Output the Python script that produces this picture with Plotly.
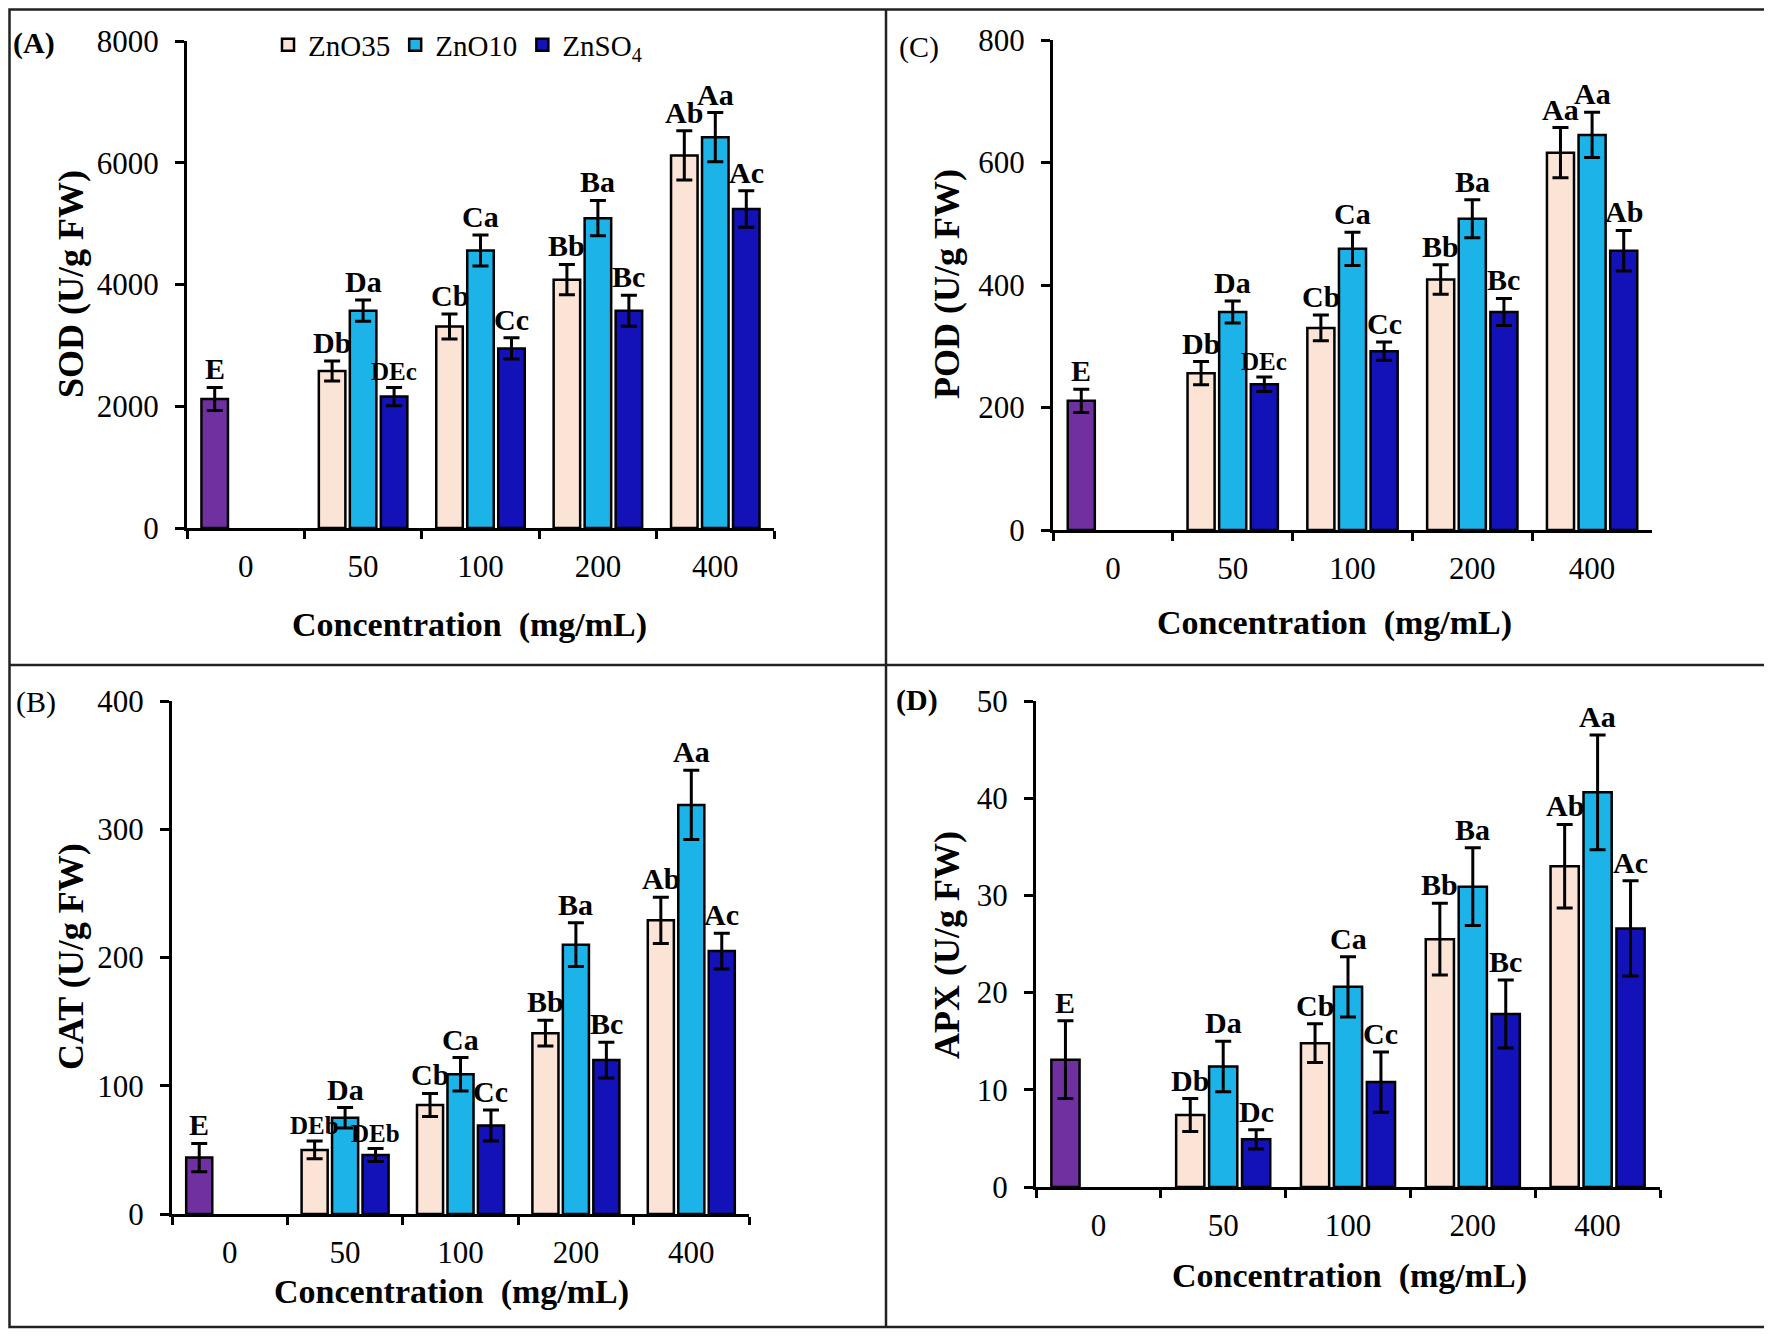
"""Atividade enzimática (SOD, CAT, POD, APX) por concentração de Zn - painéis A-D."""
import plotly.graph_objects as go

FONTE = 'Liberation Serif'
W, H = 1772, 1336
DESLOC = 8  # margem do <body> da página: a figura começa em (8, 8)

concentracoes = ['0', '50', '100', '200', '400']
nomes_series = ['ZnO35', 'ZnO10', 'ZnSO<sub>4</sub>']
cores_series = ['#fbe3d5', '#1cb4e8', '#1212b8']
cor_controle = '#7030a0'

# (A) SOD
sod_controle = [2120]
sod_controle_erro = [190]
sod_zno35 = [2580, 3310, 4080, 6120]
sod_zno35_erro = [165, 205, 250, 405]
sod_zno10 = [3570, 4560, 5090, 6420]
sod_zno10_erro = [175, 255, 290, 405]
sod_znso4 = [2160, 2950, 3570, 5240]
sod_znso4_erro = [150, 175, 255, 300]
sod_letras_controle = ['E']
sod_letras_zno35 = ['Db', 'Cb', 'Bb', 'Ab']
sod_letras_zno10 = ['Da', 'Ca', 'Ba', 'Aa']
sod_letras_znso4 = ['DEc', 'Cc', 'Bc', 'Ac']

# (C) POD
pod_controle = [211]
pod_controle_erro = [19]
pod_zno35 = [256, 330, 409, 616]
pod_zno35_erro = [19, 21, 24, 41]
pod_zno10 = [356, 459, 508, 645]
pod_zno10_erro = [18, 27, 31, 37]
pod_znso4 = [238, 292, 356, 456]
pod_znso4_erro = [12, 15, 22, 33]
pod_letras_controle = ['E']
pod_letras_zno35 = ['Db', 'Cb', 'Bb', 'Aa']
pod_letras_zno10 = ['Da', 'Ca', 'Ba', 'Aa']
pod_letras_znso4 = ['DEc', 'Cc', 'Bc', 'Ab']

# (B) CAT
cat_controle = [44]
cat_controle_erro = [11]
cat_zno35 = [50, 85, 141, 229]
cat_zno35_erro = [7, 9, 10, 18]
cat_zno10 = [75, 109, 210, 319]
cat_zno10_erro = [8, 13, 17, 27]
cat_znso4 = [46, 69, 120, 205]
cat_znso4_erro = [5, 12, 14, 14]
cat_letras_controle = ['E']
cat_letras_zno35 = ['DEb', 'Cb', 'Bb', 'Ab']
cat_letras_zno10 = ['Da', 'Ca', 'Ba', 'Aa']
cat_letras_znso4 = ['DEb', 'Cc', 'Bc', 'Ac']

# (D) APX
apx_controle = [13.1]
apx_controle_erro = [4.0]
apx_zno35 = [7.4, 14.8, 25.5, 33.0]
apx_zno35_erro = [1.7, 2.0, 3.7, 4.3]
apx_zno10 = [12.4, 20.6, 30.9, 40.6]
apx_zno10_erro = [2.6, 3.1, 4.0, 5.9]
apx_znso4 = [4.9, 10.8, 17.8, 26.6]
apx_znso4_erro = [1.0, 3.1, 3.5, 4.9]
apx_letras_controle = ['E']
apx_letras_zno35 = ['Db', 'Cb', 'Bb', 'Ab']
apx_letras_zno10 = ['Da', 'Ca', 'Ba', 'Aa']
apx_letras_znso4 = ['Dc', 'Cc', 'Bc', 'Ac']

# posições (em pixels da página) de cada painel
paineis = [
    dict(eixo='', rotulo='(A)', rotulo_neg=True, titulo_y='SOD (U/g FW)',
         px=(187, 774), py=(528, 41), faixa=8000, passo=2000,
         pos_rotulo=(11, 43), pos_ty=(71, 284), pos_tx=(469, 625),
         dados=(sod_controle, sod_controle_erro, sod_letras_controle,
                [sod_zno35, sod_zno10, sod_znso4],
                [sod_zno35_erro, sod_zno10_erro, sod_znso4_erro],
                [sod_letras_zno35, sod_letras_zno10, sod_letras_znso4])),
    dict(eixo='2', rotulo='(C)', rotulo_neg=False, titulo_y='POD (U/g FW)',
         px=(1053, 1652), py=(530, 40), faixa=800, passo=200,
         pos_rotulo=(897, 47), pos_ty=(947, 284), pos_tx=(1334, 623),
         dados=(pod_controle, pod_controle_erro, pod_letras_controle,
                [pod_zno35, pod_zno10, pod_znso4],
                [pod_zno35_erro, pod_zno10_erro, pod_znso4_erro],
                [pod_letras_zno35, pod_letras_zno10, pod_letras_znso4])),
    dict(eixo='3', rotulo='(B)', rotulo_neg=False, titulo_y='CAT (U/g FW)',
         px=(172, 749), py=(1214, 701), faixa=400, passo=100,
         pos_rotulo=(14, 702), pos_ty=(71, 957), pos_tx=(451, 1292),
         dados=(cat_controle, cat_controle_erro, cat_letras_controle,
                [cat_zno35, cat_zno10, cat_znso4],
                [cat_zno35_erro, cat_zno10_erro, cat_znso4_erro],
                [cat_letras_zno35, cat_letras_zno10, cat_letras_znso4])),
    dict(eixo='4', rotulo='(D)', rotulo_neg=True, titulo_y='APX (U/g FW)',
         px=(1036, 1660), py=(1187, 701), faixa=50, passo=10,
         pos_rotulo=(894, 700), pos_ty=(947, 945), pos_tx=(1349, 1276),
         dados=(apx_controle, apx_controle_erro, apx_letras_controle,
                [apx_zno35, apx_zno10, apx_znso4],
                [apx_zno35_erro, apx_zno10_erro, apx_znso4_erro],
                [apx_letras_zno35, apx_letras_zno10, apx_letras_znso4])),
]

LARGURA_BARRA = 0.226
CENTROS = [-0.264, 0.0, 0.264]


def px_x(v):
    return (v - DESLOC) / W


def px_y(v):
    return 1 - (v - DESLOC) / H


def fonte_letra(texto):
    return dict(family=FONTE, size=25 if texto.startswith('DE') else 30,
                color='black', weight='bold')


fig = go.Figure()
anotacoes = []

for n, p in enumerate(paineis):
    xr, yr = 'x' + p['eixo'], 'y' + p['eixo']
    controle, controle_erro, letras_ctrl, valores, erros, letras = p['dados']

    # barra do controle (0 mg/mL)
    fig.add_trace(go.Bar(
        x=concentracoes[:1], y=controle, xaxis=xr, yaxis=yr,
        offset=CENTROS[0] - LARGURA_BARRA / 2, width=LARGURA_BARRA,
        marker=dict(color=cor_controle, line=dict(color='black', width=2.5)),
        error_y=dict(type='data', array=controle_erro, color='black',
                     thickness=3, width=8),
        showlegend=False, hoverinfo='skip'))
    for texto, v, e in zip(letras_ctrl, controle, controle_erro):
        anotacoes.append(dict(x=CENTROS[0], y=v + e, xref=xr, yref=yr, text=texto,
                              showarrow=False, xanchor='center', yanchor='bottom',
                              yshift=0, font=fonte_letra(texto)))

    for s in range(3):
        fig.add_trace(go.Bar(
            x=concentracoes[1:], y=valores[s], xaxis=xr, yaxis=yr,
            name=nomes_series[s], legendgroup=nomes_series[s],
            offset=CENTROS[s] - LARGURA_BARRA / 2, width=LARGURA_BARRA,
            marker=dict(color=cores_series[s], line=dict(color='black', width=2.5)),
            error_y=dict(type='data', array=erros[s], color='black',
                         thickness=3, width=8),
            showlegend=(n == 0), hoverinfo='skip'))
        for i, (texto, v, e) in enumerate(zip(letras[s], valores[s], erros[s])):
            anotacoes.append(dict(x=i + 1 + CENTROS[s], y=v + e, xref=xr, yref=yr,
                                  text=texto, showarrow=False, xanchor='center',
                                  yanchor='bottom', yshift=0, font=fonte_letra(texto)))

    eixo_x = dict(
        domain=[px_x(p['px'][0]), px_x(p['px'][1])], anchor=yr,
        type='category', categoryorder='array', categoryarray=concentracoes,
        range=[-0.5, 4.5], tickson='boundaries', ticks='outside', ticklen=8,
        tickwidth=2.5, tickcolor='black', showline=True, linecolor='black',
        linewidth=3, showgrid=False, ticklabelstandoff=9, automargin=False,
        tickfont=dict(family=FONTE, size=31, color='black'))
    eixo_y = dict(
        domain=[px_y(p['py'][0]), px_y(p['py'][1])], anchor=xr,
        range=[0, p['faixa']], dtick=p['passo'], tick0=0, ticks='outside',
        ticklen=9, tickwidth=2.5, tickcolor='black', showline=True,
        linecolor='black', linewidth=3, showgrid=False, zeroline=False,
        ticklabelstandoff=10, automargin=False,
        tickfont=dict(family=FONTE, size=31, color='black'))
    fig.update_layout({'xaxis' + p['eixo']: eixo_x, 'yaxis' + p['eixo']: eixo_y})

    # títulos dos eixos e rótulo do painel
    anotacoes.append(dict(x=px_x(p['pos_ty'][0]), y=px_y(p['pos_ty'][1]),
                          xref='paper', yref='paper', text=p['titulo_y'],
                          textangle=-90, showarrow=False,
                          xanchor='center', yanchor='middle',
                          font=dict(family=FONTE, size=36, color='black', weight='bold')))
    anotacoes.append(dict(x=px_x(p['pos_tx'][0]), y=px_y(p['pos_tx'][1]),
                          xref='paper', yref='paper',
                          text='Concentration&nbsp;&nbsp;(mg/mL)', showarrow=False,
                          xanchor='center', yanchor='middle',
                          font=dict(family=FONTE, size=34, color='black', weight='bold')))
    anotacoes.append(dict(x=px_x(p['pos_rotulo'][0]), y=px_y(p['pos_rotulo'][1]),
                          xref='paper', yref='paper', text=p['rotulo'],
                          xanchor='left', yanchor='middle', showarrow=False,
                          font=dict(family=FONTE, size=30, color='black',
                                    weight='bold' if p['rotulo_neg'] else 'normal')))

# molduras dos quatro painéis (a borda de cima fica no limite da figura)
linha = dict(color='#222222', width=2.5)
topo = 1 - 1.5 / H
esq = 1.5 / W
molduras = [
    dict(type='rect', xref='paper', yref='paper', x0=esq, x1=px_x(1766),
         y0=px_y(1327), y1=topo, line=linha),
    dict(type='line', xref='paper', yref='paper', x0=px_x(886), x1=px_x(886),
         y0=px_y(1327), y1=topo, line=linha),
    dict(type='line', xref='paper', yref='paper', x0=esq, x1=px_x(1766),
         y0=px_y(665), y1=px_y(665), line=linha),
]

fig.update_layout(
    width=W, height=H,
    margin=dict(l=0, r=0, t=0, b=0, pad=0, autoexpand=False),
    barmode='overlay',
    paper_bgcolor='white', plot_bgcolor='white',
    annotations=anotacoes,
    shapes=molduras,
    legend=dict(orientation='h', x=px_x(268), y=px_y(45), xanchor='left',
                yanchor='middle', bgcolor='rgba(0,0,0,0)', itemwidth=30,
                font=dict(family=FONTE, size=29, color='black'),
                traceorder='normal', tracegroupgap=0),
)

fig.write_html("out.html")
